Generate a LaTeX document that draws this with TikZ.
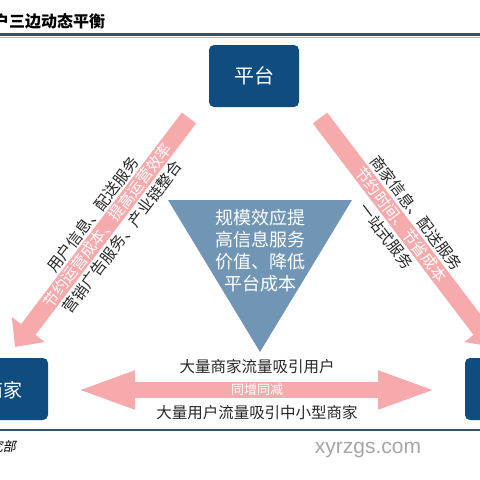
\documentclass[tikz,border=0pt]{standalone}
\usepackage{fontspec}
\newfontfamily\cjk{Noto Sans CJK SC}
\newfontfamily\cjksl[FakeSlant=0.2]{Noto Sans CJK SC}
\newfontfamily\wmfont{Liberation Sans}
\usetikzlibrary{arrows.meta}
\definecolor{dkblue}{HTML}{0F4C7F}
\definecolor{tricol}{HTML}{7196B5}
\definecolor{pinkc}{HTML}{F6AAAC}
\definecolor{rulec}{HTML}{34506C}
\definecolor{rulel}{HTML}{A9BCCD}
\definecolor{wmgrey}{HTML}{A6A6A6}
\tikzset{
  box/.style={fill=dkblue, rounded corners=5pt, inner sep=0pt},
  boxtext/.style={text=white, font=\cjk\fontsize{#1}{#1}\selectfont, inner sep=0pt},
  lab/.style={font=\cjk\fontsize{#1}{#1}\selectfont, inner sep=0pt, text=black!85},
  innerlab/.style={font=\cjk\fontsize{#1}{#1}\selectfont, inner sep=0pt, text=white},
  bandarrow/.style={draw=pinkc, line width=18pt, line cap=butt, -{Triangle[length=22pt,width=40pt]}},
  midarrow/.style={draw=pinkc, line width=16pt, line cap=butt, {Triangle[length=60pt,width=34pt]}-{Triangle[length=60pt,width=34pt]}},
}
\begin{document}
\begin{tikzpicture}[x=1pt,y=-1pt]
\useasboundingbox (0,0) rectangle (480,480);
% title and rules
\node[anchor=west, font=\cjk\bfseries\fontsize{16}{16}\selectfont, inner sep=0pt] (title) at (-7,21) {户三边动态平衡};
\draw[rulec, line width=2.5pt] (0,34.5) -- (480,34.5);
\draw[rulel, line width=1pt] (0,37) -- (480,37);
\draw[rulec, line width=1.2pt] (0,430) -- (480,430);
\node[anchor=east, font=\cjksl\fontsize{13}{13}\selectfont, inner sep=0pt] (src) at (16,447) {研究部};
\node[font=\wmfont\fontsize{21}{21}\selectfont, text=wmgrey, inner sep=0pt] (wm) at (368,450) {xyrzgs.com};
% boxes
\node[box, minimum width=90pt, minimum height=62pt] (pingtai) at (254,76) {};
\node[boxtext=20] (pingtaitext) at (254,76) {平台};
\node[box, minimum width=98pt, minimum height=62pt] (shangjia) at (-1,389) {};
\node[boxtext=19] (shangjiatext) at (3,390) {商家};
\node[box, minimum width=98pt, minimum height=62pt] (yonghu) at (514,389) {};
% triangle
\fill[tricol] (168,200) -- (352,200) -- (260,352) -- cycle;
\node[font=\cjk\fontsize{18}{22}\selectfont, text=white, align=center, inner sep=0pt] (tritext) at (260,250.5) {规模效应提\\高信息服务\\价值、降低\\平台成本};
% diagonal arrows
\coordinate (ls) at (189,118);
\coordinate (lt) at (15,347);
\coordinate (rs) at (320,118);
\coordinate (rt) at (494,347);
\draw[bandarrow] (ls) -- (lt);
\draw[bandarrow] (rs) -- (rt);
\node[lab=15.5, rotate=52.8] (l1) at (93,214.6) {用户信息、配送服务};
\node[innerlab=15.5, rotate=52.8] (l2) at (107.3,225.5) {节约运营成本、提高运营效率};
\node[lab=15.5, rotate=52.8] (l3) at (122.4,237) {营销广告服务、产业链整合};
\node[lab=15.5, rotate=-52.8] (r1) at (416.5,213.1) {商家信息、配送服务};
\node[innerlab=15.5, rotate=-52.8] (r2) at (401.4,224.6) {节约时间、节省成本};
\node[lab=15.5, rotate=-52.8] (r3) at (386.3,236.1) {一站式服务};
% middle arrow
\coordinate (ma) at (75,390);
\coordinate (mb) at (438,390);
\draw[midarrow] (ma) -- (mb);
\node[lab=15.5] (m1) at (257,367) {大量商家流量吸引用户};
\node[innerlab=13] (m2) at (257,390) {同增同减};
\node[lab=15.5] (m3) at (257,413) {大量用户流量吸引中小型商家};
\end{tikzpicture}
\end{document}
